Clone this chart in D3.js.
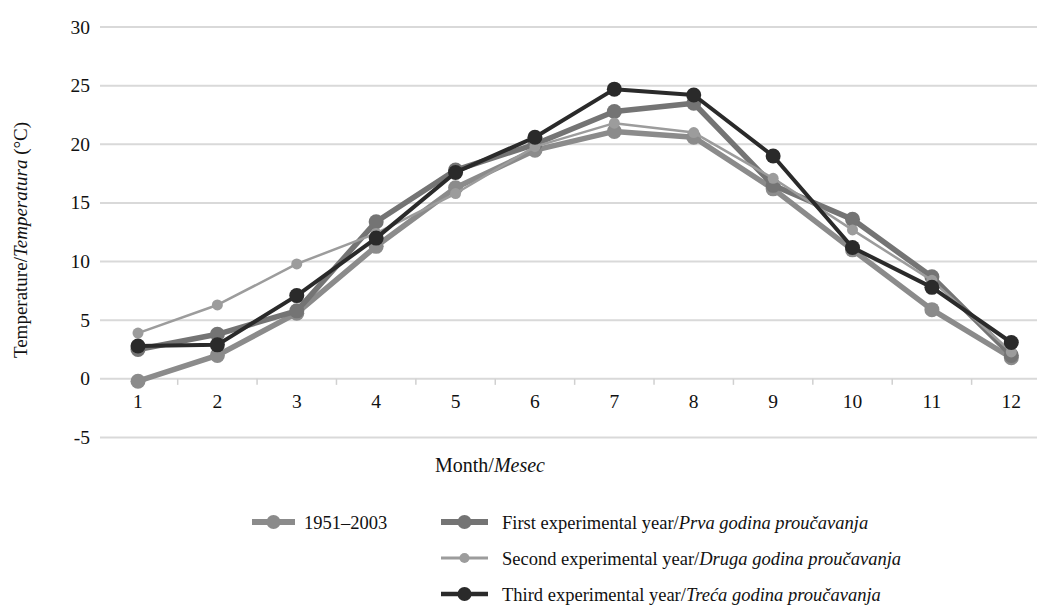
<!DOCTYPE html>
<html>
<head>
<meta charset="utf-8">
<script src="https://cdn.jsdelivr.net/npm/d3@7"></script>
<style>
  html, body { margin: 0; padding: 0; background: #fff; }
  svg { display: block; }
  svg text { font-family: "Liberation Serif", "Times New Roman", serif; fill: #111; }
</style>
</head>
<body>
<svg id="chart" width="1037" height="605"></svg>
<script>
// Monthly mean air temperature (°C)
const months = [1, 2, 3, 4, 5, 6, 7, 8, 9, 10, 11, 12];
const yTicks = [-5, 0, 5, 10, 15, 20, 25, 30];

const longTerm   = [-0.2, 2.0, 5.6, 11.3, 16.3, 19.5, 21.1, 20.6, 16.2, 11.0, 5.9, 1.8];
const firstYear  = [2.5, 3.8, 5.8, 13.4, 17.8, 20.0, 22.8, 23.5, 16.5, 13.6, 8.7, 2.0];
const secondYear = [3.9, 6.3, 9.8, 12.4, 15.8, 19.8, 21.8, 21.0, 17.1, 12.7, 8.4, 2.3];
const thirdYear  = [2.8, 2.9, 7.1, 12.0, 17.6, 20.6, 24.7, 24.2, 19.0, 11.2, 7.8, 3.1];

const seriesNames = [
  ["1951–2003", ""],
  ["First experimental year/", "Prva godina proučavanja"],
  ["Second experimental year/", "Druga godina proučavanja"],
  ["Third experimental year/", "Treća godina proučavanja"]
];

const series = [
  { values: longTerm,   color: "#8b8b8b", width: 5.5, r: 7.5 },
  { values: firstYear,  color: "#747474", width: 5.5, r: 7.5 },
  { values: secondYear, color: "#9c9c9c", width: 2.5, r: 5.5 },
  { values: thirdYear,  color: "#2a2a2a", width: 4,   r: 7.5 }
];

const FS = 19.5;

const svg = d3.select("#chart");

const x = d3.scaleBand().domain(months).range([98.3, 1051]);
const y = d3.scaleLinear().domain([-5, 30]).range([437.5, 27]);
const cx = m => x(m) + x.bandwidth() / 2;

// horizontal gridlines
svg.append("g").selectAll("line").data(yTicks).join("line")
  .attr("x1", 100).attr("x2", 1037)
  .attr("y1", d => y(d)).attr("y2", d => y(d))
  .attr("stroke", "#d9d9d9").attr("stroke-width", 2);

// y tick labels
svg.append("g").selectAll("text").data(yTicks).join("text")
  .attr("x", 90).attr("y", d => y(d) + 6.5)
  .attr("text-anchor", "end").attr("font-size", FS)
  .text(d => d);

// category axis along zero
const xAxis = d3.axisBottom(x).tickSize(0).tickFormat(d => d);
const gx = svg.append("g").attr("transform", `translate(0,${y(0)})`).call(xAxis);
gx.attr("font-family", null).attr("font-size", null);
gx.select(".domain").remove();
gx.selectAll("text").attr("font-size", FS).attr("fill", "#111")
  .attr("y", 29).attr("dy", 0);
// boundary tick marks between months
svg.append("g").selectAll("line").data(months.slice(1)).join("line")
  .attr("x1", d => x(d)).attr("x2", d => x(d))
  .attr("y1", y(0)).attr("y2", y(0) + 6)
  .attr("stroke", "#d0d0d0").attr("stroke-width", 1.5);

// series lines with markers
const line = d3.line().x((d, i) => cx(months[i])).y(d => y(d));
series.forEach(s => {
  const g = svg.append("g");
  g.append("path").datum(s.values)
    .attr("d", line).attr("fill", "none")
    .attr("stroke", s.color).attr("stroke-width", s.width)
    .attr("stroke-linejoin", "round");
  g.selectAll("circle").data(s.values).join("circle")
    .attr("cx", (d, i) => cx(months[i])).attr("cy", d => y(d))
    .attr("r", s.r).attr("fill", s.color);
});

// axis titles
const yt = svg.append("text")
  .attr("transform", "translate(27,240) rotate(-90)")
  .attr("text-anchor", "middle").attr("font-size", 19);
yt.append("tspan").text("Temperature/");
yt.append("tspan").attr("font-style", "italic").text("Temperatura");
yt.append("tspan").text(" (°C)");

const xt = svg.append("text").attr("x", 490).attr("y", 472)
  .attr("text-anchor", "middle").attr("font-size", 20);
xt.append("tspan").text("Month/");
xt.append("tspan").attr("font-style", "italic").text("Mesec");

// legend
const legendPos = [
  { sx: 252, sw: 43, tx: 304, ly: 522 },
  { sx: 441, sw: 47, tx: 502, ly: 522 },
  { sx: 441, sw: 47, tx: 502, ly: 558 },
  { sx: 441, sw: 47, tx: 502, ly: 594 }
];
series.forEach((s, i) => {
  const p = legendPos[i];
  const g = svg.append("g");
  g.append("line").attr("x1", p.sx).attr("x2", p.sx + p.sw)
    .attr("y1", p.ly).attr("y2", p.ly)
    .attr("stroke", s.color).attr("stroke-width", s.width + 0.5);
  g.append("circle").attr("cx", p.sx + p.sw / 2).attr("cy", p.ly).attr("r", s.r - 0.5).attr("fill", s.color);
  const t = g.append("text").attr("x", p.tx).attr("y", p.ly + 6.5).attr("font-size", 18.5);
  t.append("tspan").text(seriesNames[i][0]);
  t.append("tspan").attr("font-style", "italic").text(seriesNames[i][1]);
});
</script>
</body>
</html>
